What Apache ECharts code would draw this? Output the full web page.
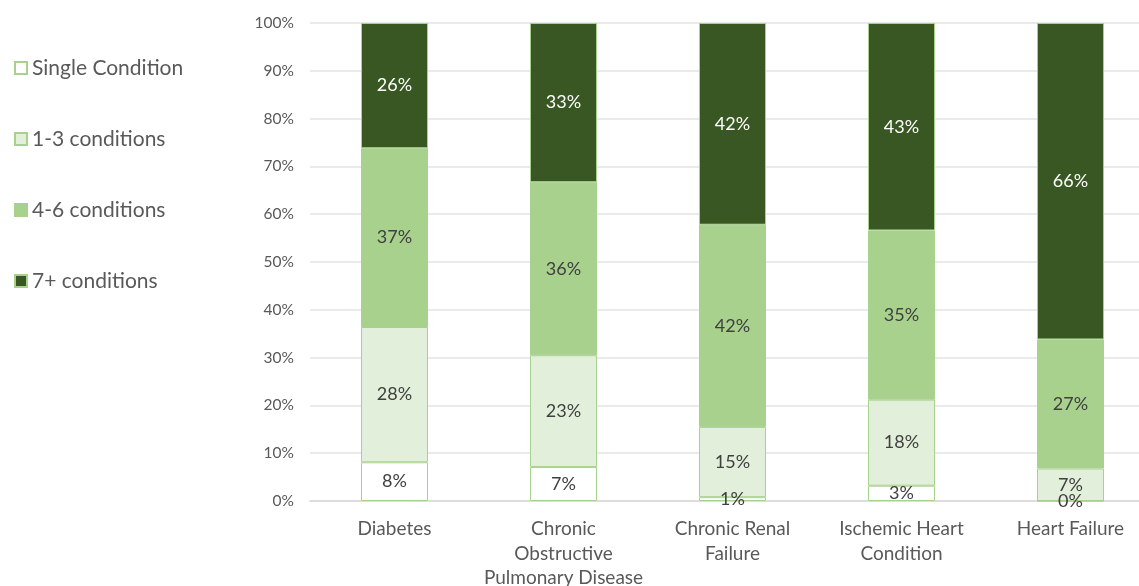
<!DOCTYPE html>
<html>
<head>
<meta charset="utf-8">
<script src="https://cdn.jsdelivr.net/npm/echarts@6/dist/echarts.min.js"></script>
<style>
  html, body { margin: 0; padding: 0; background: #ffffff; }
  #chart { width: 1139px; height: 586px; }
</style>
</head>
<body>
<div id="chart"></div>
<script>
// Share of patients by number of co-occurring conditions, per primary diagnosis (%)
const categories = [
  'Diabetes',
  'Chronic\nObstructive\nPulmonary Disease',
  'Chronic Renal\nFailure',
  'Ischemic Heart\nCondition',
  'Heart Failure'
];
const seriesNames = ['Single Condition', '1-3 conditions', '4-6 conditions', '7+ conditions'];
const singleCondition = [8.1, 7.1, 0.8, 3.2, 0];
const oneToThree = [28.3, 23.4, 14.7, 18.0, 6.8];
const fourToSix = [37.4, 36.2, 42.3, 35.4, 27.0];
const sevenPlus = [26.2, 33.3, 42.2, 43.4, 66.2];
const yTicks = [0, 10, 20, 30, 40, 50, 60, 70, 80, 90, 100];

const fills = ['#ffffff', '#e2efda', '#a9d18e', '#385723'];
const labelColors = ['#404040', '#404040', '#404040', '#ffffff'];
const values = [singleCondition, oneToThree, fourToSix, sevenPlus];
const font = 'Lato, "Open Sans", sans-serif';

const chart = echarts.init(document.getElementById('chart'), null, { renderer: 'canvas' });

chart.setOption({
  backgroundColor: '#ffffff',
  animation: false,
  textStyle: { fontFamily: font },
  legend: {
    orient: 'vertical',
    left: 9,
    top: 52,
    itemWidth: 12,
    itemHeight: 12,
    itemGap: 49,
    icon: 'rect',
    data: seriesNames.slice(),
    textStyle: { fontSize: 21, color: '#595959', fontFamily: font, lineHeight: 22, padding: [0, 0, 0, 0] }
  },
  grid: { left: 310, top: 23, width: 845, height: 478, containLabel: false, outerBoundsMode: 'none' },
  xAxis: {
    type: 'category',
    data: categories,
    axisLine: { show: true, lineStyle: { color: '#d9d9d9', width: 1.5 } },
    axisTick: { show: false },
    axisLabel: { color: '#595959', fontSize: 19, lineHeight: 24.5, margin: 16, interval: 0, fontFamily: font }
  },
  yAxis: {
    type: 'value',
    min: 0,
    max: 100,
    interval: 10,
    axisLine: { show: false },
    axisTick: { show: false },
    splitLine: { lineStyle: { color: '#e3e3e3', width: 1.5 } },
    axisLabel: {
      color: '#595959', fontSize: 15.5, margin: 16, fontFamily: font,
      formatter: v => (yTicks.indexOf(v) >= 0 ? v + '%' : '')
    }
  },
  series: seriesNames.map((name, i) => ({
    name: name,
    type: 'bar',
    stack: 'total',
    barWidth: 67,
    data: values[i],
    itemStyle: { color: fills[i], borderColor: '#a9d18e', borderWidth: 1 },
    label: {
      show: true,
      position: 'inside',
      color: labelColors[i],
      fontSize: 18,
      fontFamily: font,
      formatter: p => Math.round(p.value) + '%'
    }
  }))
});
</script>
</body>
</html>
